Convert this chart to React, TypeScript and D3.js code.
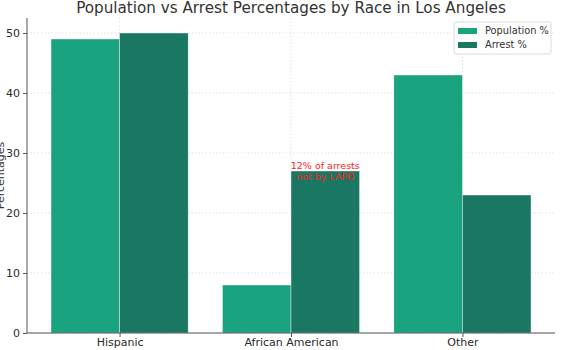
import React from "react";
import * as d3 from "d3";

const races = ["Hispanic", "African American", "Other"];
const populationPct = [49, 8, 43];
const arrestPct = [50, 27, 23];
const yTicks = [0, 10, 20, 30, 40, 50];
const seriesNames = ["Population %", "Arrest %"];
const colors = ["#19a37e", "#1a7862"];

export default function App() {
    const ref = React.useRef<SVGSVGElement>(null);

    React.useEffect(() => {
        drawChart();
    }, []);

    function drawChart() {
        const width = 572;
        const height = 350;
        const margin = { top: 18, right: 17, bottom: 17, left: 27 };
        const font = "DejaVu Sans, sans-serif";

        const svg = d3.select(ref.current);
        svg.selectAll("*").remove();

        // x in "category units" like matplotlib, bars 0.4 wide
        const x = d3
            .scaleLinear()
            .domain([-0.54, 2.54])
            .range([margin.left, width - margin.right]);
        const y = d3
            .scaleLinear()
            .domain([0, 52.5])
            .range([height - margin.bottom, margin.top]);

        const g = svg.append("g");

        // grid
        g.selectAll("line.hgrid")
            .data(yTicks)
            .enter()
            .append("line")
            .attr("x1", margin.left)
            .attr("x2", width - margin.right)
            .attr("y1", (d) => y(d))
            .attr("y2", (d) => y(d))
            .attr("stroke", "#d9d9d9")
            .attr("stroke-width", 0.8)
            .attr("stroke-dasharray", "1.5,2");
        g.selectAll("line.vgrid")
            .data(races)
            .enter()
            .append("line")
            .attr("x1", (d, i) => x(i))
            .attr("x2", (d, i) => x(i))
            .attr("y1", margin.top)
            .attr("y2", height - margin.bottom)
            .attr("stroke", "#d9d9d9")
            .attr("stroke-width", 0.8)
            .attr("stroke-dasharray", "1.5,2");

        const bw = 0.4;
        const series = [populationPct, arrestPct];
        series.forEach((vals, s) => {
            g.selectAll("rect.s" + s)
                .data(vals)
                .enter()
                .append("rect")
                .attr("x", (d, i) => x(i - bw + s * bw))
                .attr("y", (d) => y(d))
                .attr("width", x(bw) - x(0))
                .attr("height", (d) => y(0) - y(d))
                .attr("fill", colors[s])
                .attr("stroke", "#ffffff")
                .attr("stroke-width", 0.4);
        });

        // axes
        const yAxis = d3.axisLeft(y).tickValues(yTicks).tickSize(4).tickPadding(3);
        const ya = g
            .append("g")
            .attr("transform", `translate(${margin.left},0)`)
            .call(yAxis);
        const xAxis = d3
            .axisBottom(x)
            .tickValues([0, 1, 2])
            .tickFormat((d, i) => races[i])
            .tickSize(4)
            .tickPadding(1);
        const xa = g
            .append("g")
            .attr("transform", `translate(0,${height - margin.bottom})`)
            .call(xAxis);
        [ya, xa].forEach((a) => {
            a.select(".domain").attr("stroke", "#555").attr("stroke-width", 1);
            a.selectAll(".tick line").attr("stroke", "#555");
            a.selectAll(".tick text")
                .attr("fill", "#2a2a2a")
                .style("font-family", font)
                .style("font-size", "11px");
        });
        ya.select(".domain").attr("d", `M0,${margin.top}V${height - margin.bottom}`);
        xa.select(".domain").attr("d", `M${margin.left},0H${width - margin.right}`);

        // annotation
        const ann = g
            .append("text")
            .attr("x", x(1.2))
            .attr("y", y(27))
            .attr("text-anchor", "middle")
            .attr("fill", "#ff2020")
            .style("font-family", font)
            .style("font-size", "9.5px");
        ann.append("tspan").attr("x", x(1.2)).attr("dy", -2).text("12% of arrests");
        ann.append("tspan").attr("x", x(1.2)).attr("dy", 11).text("not by LAPD");

        // title
        svg.append("text")
            .attr("x", (margin.left + width - margin.right) / 2)
            .attr("y", 13)
            .attr("text-anchor", "middle")
            .attr("fill", "#333")
            .style("font-family", font)
            .style("font-size", "15.2px")
            .text("Population vs Arrest Percentages by Race in Los Angeles");

        // y label
        svg.append("text")
            .attr("transform", `translate(4,${y(26.25)}) rotate(-90)`)
            .attr("text-anchor", "middle")
            .attr("fill", "#333")
            .style("font-family", font)
            .style("font-size", "11px")
            .text("Percentages");

        // legend
        const lg = svg.append("g").attr("transform", "translate(454,22)");
        lg.append("rect")
            .attr("width", 97)
            .attr("height", 32)
            .attr("rx", 2)
            .attr("fill", "#ffffff")
            .attr("fill-opacity", 0.85)
            .attr("stroke", "#d0d0d0")
            .attr("stroke-width", 0.8);
        seriesNames.forEach((name, i) => {
            lg.append("rect")
                .attr("x", 4)
                .attr("y", 6 + i * 14)
                .attr("width", 19)
                .attr("height", 6)
                .attr("fill", colors[i]);
            lg.append("text")
                .attr("x", 31)
                .attr("y", 12 + i * 14)
                .attr("fill", "#333")
                .style("font-family", font)
                .style("font-size", "9.8px")
                .text(name);
        });
    }

    return <svg ref={ref} width={572} height={350} style={{ position: "absolute", left: 0, top: 0 }} />;
}
